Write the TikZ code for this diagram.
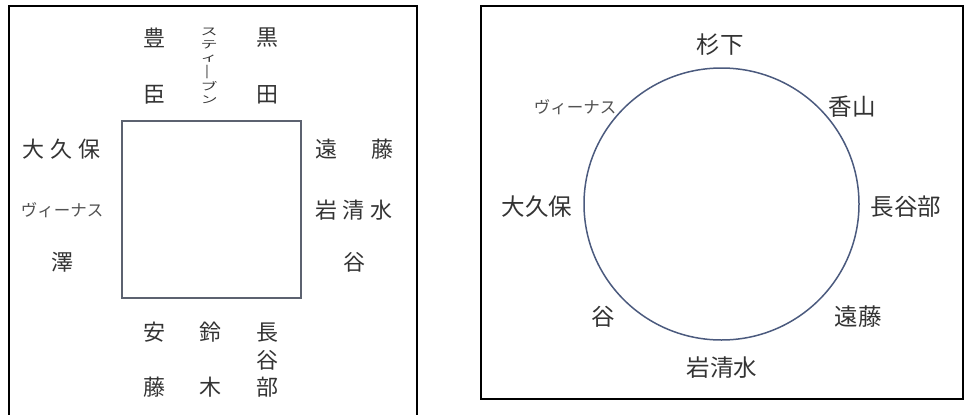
\documentclass[tikz,border=0pt]{standalone}
\usepackage{fontspec}
\usepackage{graphicx}
\newfontfamily\jp{Noto Sans CJK JP}
\newcommand{\vsq}[1]{\scalebox{1}[0.62]{#1}}
\definecolor{txt}{HTML}{333333}
\definecolor{sqline}{HTML}{5C6270}
\definecolor{cirline}{HTML}{4B5A7E}
\tikzset{
  frame/.style={draw=black, line width=1.2pt},
  lbl/.style={inner sep=0pt, text=txt, font=\jp\fontsize{22}{22}\selectfont},
  rlbl/.style={inner sep=0pt, text=txt, font=\jp\fontsize{23.5}{24}\selectfont},
  kana/.style={inner sep=0pt, text=txt!85, font=\jp\fontsize{16.5}{16}\selectfont},
  vkana/.style={inner sep=0pt, text=txt, align=center, font=\jp\fontsize{17}{12.8}\selectfont}
}
\newcommand{\gp}{\hspace{6pt}}
\begin{document}
\begin{tikzpicture}[x=1pt,y=-1pt]
\useasboundingbox (0,0) rectangle (964,415);
% frames
\draw[frame] (9,416) -- (9,6) -- (417,6) -- (417,416);
\draw[frame] (481,6) rectangle (963,399);
% left panel
\node[draw=sqline, line width=1.2pt, minimum width=179pt, minimum height=177pt, inner sep=0pt] (sq) at (211.5,209.5) {};
\node[lbl] (toyo1) at (154,38) {豊};
\node[lbl] (toyo2) at (154,95) {臣};
\node[vkana] (steve) at (209,66) {\vsq{ス}\\\vsq{テ}\\\vsq{ィ}\\\rotatebox[origin=c]{90}{\vsq{ー}}\\\vsq{ブ}\\\vsq{ン}};
\node[lbl] (kuro1) at (267,38) {黒};
\node[lbl] (kuro2) at (267,95) {田};
\node[lbl] (okubo) at (62,149) {大\gp 久\gp 保};
\node[kana] (venus) at (62,210) {ヴィーナス};
\node[lbl] (sawa) at (62,262) {澤};
\node[lbl] (en) at (326,149) {遠};
\node[lbl] (fuji) at (382,149) {藤};
\node[lbl] (iwa) at (354,210) {岩\gp 清\gp 水};
\node[lbl] (tani) at (354,262) {谷};
\node[lbl] (an) at (154,332) {安};
\node[lbl] (an2) at (154,387) {藤};
\node[lbl] (suzu) at (210,332) {鈴};
\node[lbl] (suzu2) at (210,387) {木};
\node[lbl] (ha1) at (267,333) {長};
\node[lbl] (ha2) at (267,360) {谷};
\node[lbl] (ha3) at (267,387) {部};
% right panel
\draw[draw=cirline, line width=1.5pt] (721.5,204) ellipse [x radius=137.5, y radius=136];
\node[rlbl] (sugi) at (720,45) {杉下};
\node[rlbl] (kaya) at (852,107) {香山};
\node[kana] (venus2) at (575,107) {ヴィーナス};
\node[rlbl] (okubo2) at (537,207) {大久保};
\node[rlbl] (hase) at (906,207) {長谷部};
\node[rlbl] (tani2) at (603,317) {谷};
\node[rlbl] (endo) at (858,317) {遠藤};
\node[rlbl] (iwa2) at (722,368) {岩清水};
\end{tikzpicture}
\end{document}
